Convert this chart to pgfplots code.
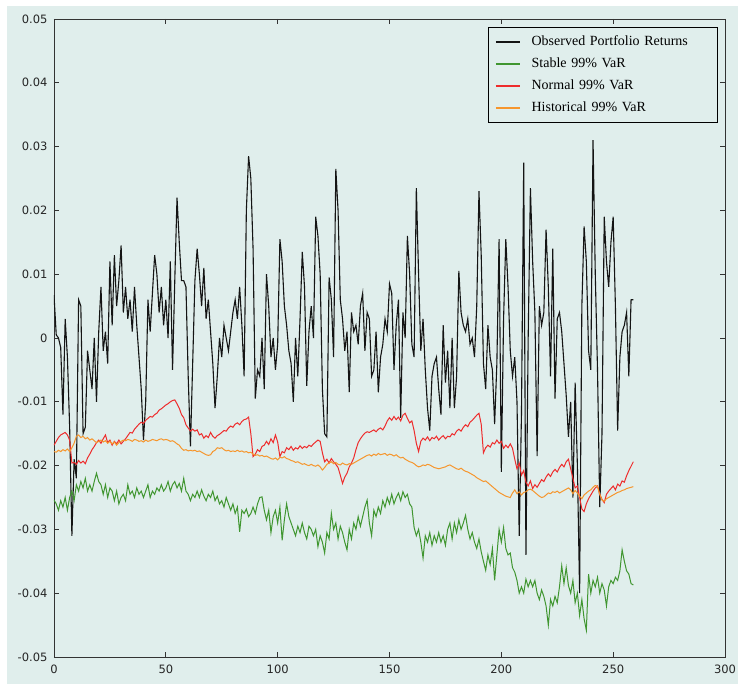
\documentclass[border=0pt]{standalone}
\usepackage{fontspec}
\setmainfont{Liberation Serif}
\newfontfamily\ticksf{DejaVu Sans}
\usepackage{pgfplots}
\usepackage{pgfplotstable}
\pgfplotsset{compat=1.18}

\definecolor{bgc}{RGB}{224,238,236}
\definecolor{obsc}{RGB}{20,20,20}
\definecolor{stabc}{RGB}{64,150,48}
\definecolor{normc}{RGB}{238,44,44}
\definecolor{histc}{RGB}{246,150,45}

% i = day, r = observed return, s = stable VaR, n = normal VaR, h = historical VaR
\pgfplotstableread{
i r s n h
0 0.0067 -0.0254 -0.0168 -0.0178
1 0.0005 -0.026 -0.0162 -0.0179
2 0 -0.027 -0.0156 -0.0176
3 -0.0015 -0.0255 -0.0152 -0.0178
4 -0.012 -0.0265 -0.015 -0.0175
5 0.003 -0.025 -0.0148 -0.0177
6 -0.003 -0.027 -0.0152 -0.0174
7 -0.014 -0.025 -0.016 -0.0178
8 -0.031 -0.024 -0.0196 -0.0172
9 -0.019 -0.0255 -0.0195 -0.0165
10 -0.022 -0.023 -0.0198 -0.0154
11 0.006 -0.024 -0.0192 -0.0152
12 0.005 -0.0225 -0.0196 -0.0156
13 -0.015 -0.0235 -0.0193 -0.0154
14 -0.014 -0.022 -0.0197 -0.0158
15 -0.002 -0.024 -0.0188 -0.0156
16 -0.005 -0.023 -0.0182 -0.016
17 -0.008 -0.024 -0.0175 -0.0158
18 0 -0.0225 -0.017 -0.0161
19 -0.01 -0.0212 -0.0164 -0.0164
20 0.001 -0.0225 -0.016 -0.0162
21 0.008 -0.023 -0.0165 -0.016
22 -0.002 -0.0245 -0.0158 -0.0163
23 0.001 -0.023 -0.0152 -0.0161
24 -0.004 -0.025 -0.0164 -0.0165
25 0.012 -0.0235 -0.016 -0.0162
26 0.002 -0.024 -0.0168 -0.0166
27 0.013 -0.0255 -0.0162 -0.0163
28 0.005 -0.024 -0.0166 -0.0168
29 0.009 -0.026 -0.016 -0.0164
30 0.0145 -0.025 -0.0166 -0.0162
31 0.004 -0.0245 -0.0162 -0.016
32 0.008 -0.0255 -0.0158 -0.0161
33 0.003 -0.023 -0.0153 -0.0159
34 0.006 -0.0245 -0.0148 -0.016
35 0.001 -0.024 -0.0149 -0.0162
36 0.008 -0.025 -0.0143 -0.0159
37 0.002 -0.0235 -0.0139 -0.016
38 -0.003 -0.0245 -0.0135 -0.0162
39 -0.008 -0.024 -0.0132 -0.0161
40 -0.016 -0.025 -0.0134 -0.0163
41 -0.01 -0.024 -0.0129 -0.016
42 0.006 -0.023 -0.0126 -0.0162
43 0.001 -0.025 -0.0123 -0.0161
44 0.007 -0.024 -0.0124 -0.0159
45 0.013 -0.0245 -0.012 -0.016
46 0.01 -0.0235 -0.0118 -0.0161
47 0.004 -0.024 -0.0113 -0.0159
48 0.008 -0.023 -0.0111 -0.0158
49 0.002 -0.024 -0.0108 -0.016
50 0.006 -0.0235 -0.0105 -0.0159
51 0 -0.0225 -0.0103 -0.016
52 0.012 -0.024 -0.01 -0.0162
53 -0.005 -0.023 -0.0098 -0.0161
54 0.009 -0.0225 -0.0097 -0.0163
55 0.022 -0.0235 -0.0103 -0.0166
56 0.015 -0.0228 -0.011 -0.0168
57 0.009 -0.024 -0.012 -0.0173
58 0.009 -0.022 -0.0125 -0.0176
59 0.008 -0.024 -0.0136 -0.0175
60 -0.006 -0.0245 -0.0141 -0.0177
61 -0.017 -0.0255 -0.0146 -0.0176
62 -0.004 -0.0245 -0.0143 -0.0177
63 0.009 -0.025 -0.0146 -0.0176
64 0.014 -0.024 -0.0144 -0.0178
65 0.01 -0.025 -0.0152 -0.0177
66 0.005 -0.0238 -0.015 -0.0179
67 0.011 -0.0248 -0.0157 -0.0181
68 0.003 -0.0255 -0.0153 -0.0183
69 0.006 -0.0245 -0.0156 -0.0184
70 0.001 -0.025 -0.0148 -0.0183
71 -0.004 -0.024 -0.0154 -0.0178
72 -0.011 -0.0255 -0.0157 -0.0176
73 -0.006 -0.0248 -0.0153 -0.0172
74 0 -0.026 -0.0151 -0.0173
75 -0.003 -0.0255 -0.0148 -0.0172
76 0.002 -0.0265 -0.0145 -0.0175
77 0 -0.025 -0.0146 -0.0177
78 -0.002 -0.026 -0.0141 -0.0176
79 0.001 -0.027 -0.0138 -0.0178
80 0.004 -0.026 -0.014 -0.0177
81 0.006 -0.0275 -0.0135 -0.0178
82 0.003 -0.0265 -0.0133 -0.0176
83 0.008 -0.0304 -0.0136 -0.0178
84 0.002 -0.027 -0.0131 -0.0177
85 -0.006 -0.0275 -0.0128 -0.0179
86 0.02 -0.0268 -0.0127 -0.0178
87 0.0285 -0.028 -0.0124 -0.018
88 0.025 -0.0275 -0.015 -0.0179
89 0.014 -0.0265 -0.0186 -0.0182
90 -0.0095 -0.0275 -0.0182 -0.0184
91 -0.005 -0.026 -0.0175 -0.0183
92 -0.006 -0.025 -0.0178 -0.0185
93 0 -0.0249 -0.017 -0.0184
94 -0.008 -0.027 -0.0168 -0.0186
95 0.01 -0.0285 -0.0162 -0.0185
96 0.005 -0.027 -0.0167 -0.0187
97 -0.003 -0.0305 -0.0158 -0.0189
98 0 -0.028 -0.0164 -0.019
99 -0.005 -0.027 -0.0152 -0.0188
100 -0.001 -0.029 -0.0163 -0.0191
101 0.0155 -0.0265 -0.0186 -0.0187
102 0.012 -0.0317 -0.0178 -0.0188
103 0.005 -0.0285 -0.018 -0.0186
104 0.002 -0.026 -0.0172 -0.0189
105 -0.002 -0.028 -0.0175 -0.019
106 -0.004 -0.029 -0.017 -0.0192
107 -0.01 -0.03 -0.0176 -0.0193
108 0 -0.031 -0.0172 -0.0195
109 -0.006 -0.0295 -0.0174 -0.0194
110 0.003 -0.0305 -0.0169 -0.0196
111 0.0135 -0.029 -0.0173 -0.0198
112 0.008 -0.0305 -0.017 -0.0197
113 -0.0075 -0.0315 -0.0172 -0.0199
114 0.001 -0.0295 -0.0168 -0.02
115 0.005 -0.03 -0.017 -0.0198
116 0 -0.031 -0.0166 -0.02
117 0.019 -0.03 -0.0163 -0.0201
118 0.016 -0.0327 -0.016 -0.0199
119 0.01 -0.031 -0.0162 -0.0202
120 -0.008 -0.032 -0.018 -0.0207
121 -0.015 -0.0337 -0.0194 -0.0203
122 -0.0155 -0.0305 -0.019 -0.0198
123 0.0095 -0.0315 -0.0196 -0.0196
124 0.006 -0.0275 -0.0189 -0.0194
125 -0.003 -0.03 -0.0194 -0.0197
126 0.0265 -0.029 -0.0198 -0.0195
127 0.02 -0.0315 -0.0203 -0.0198
128 0.006 -0.0295 -0.0215 -0.0199
129 0.003 -0.0305 -0.0228 -0.0196
130 -0.002 -0.032 -0.0218 -0.0198
131 0.001 -0.0332 -0.0212 -0.0199
132 -0.0085 -0.03 -0.0202 -0.0197
133 0.004 -0.0315 -0.0196 -0.0198
134 0.001 -0.029 -0.0188 -0.0196
135 0.002 -0.03 -0.0175 -0.0194
136 -0.001 -0.028 -0.0164 -0.0192
137 0.005 -0.0295 -0.0158 -0.019
138 0.007 -0.028 -0.0153 -0.0188
139 -0.002 -0.0265 -0.0149 -0.0186
140 0.004 -0.0254 -0.0147 -0.0184
141 0.003 -0.029 -0.0148 -0.0183
142 -0.006 -0.031 -0.0146 -0.0185
143 -0.005 -0.027 -0.0144 -0.0182
144 0.001 -0.028 -0.0147 -0.0184
145 -0.0085 -0.0265 -0.0143 -0.0181
146 -0.003 -0.0275 -0.0141 -0.0183
147 -0.001 -0.0255 -0.0144 -0.0182
148 0.003 -0.0265 -0.0138 -0.0181
149 0.001 -0.025 -0.013 -0.0184
150 0.0085 -0.026 -0.0125 -0.0182
151 0.007 -0.0245 -0.0129 -0.0183
152 -0.005 -0.026 -0.0123 -0.0185
153 0.002 -0.025 -0.0128 -0.0183
154 0.006 -0.0243 -0.0124 -0.0186
155 -0.0125 -0.0255 -0.013 -0.0188
156 0.004 -0.0241 -0.0121 -0.0187
157 0 -0.025 -0.0118 -0.019
158 0.016 -0.0245 -0.0126 -0.0192
159 0.01 -0.026 -0.0133 -0.0194
160 -0.001 -0.0265 -0.013 -0.0195
161 -0.003 -0.0297 -0.0145 -0.0197
162 0.0235 -0.031 -0.0165 -0.02
163 0.01 -0.03 -0.0178 -0.0202
164 -0.002 -0.032 -0.0162 -0.0201
165 0.003 -0.0345 -0.0157 -0.0199
166 -0.005 -0.031 -0.016 -0.02
167 -0.011 -0.032 -0.0155 -0.0198
168 -0.0145 -0.0305 -0.0161 -0.0199
169 -0.006 -0.0325 -0.0156 -0.0201
170 -0.004 -0.031 -0.0158 -0.0203
171 -0.003 -0.032 -0.0154 -0.0204
172 -0.008 -0.0305 -0.016 -0.0205
173 -0.012 -0.032 -0.0156 -0.0204
174 0.002 -0.031 -0.0153 -0.0203
175 -0.007 -0.0325 -0.0158 -0.0202
176 -0.002 -0.03 -0.0154 -0.02
177 -0.011 -0.029 -0.0155 -0.0199
178 0 -0.0315 -0.015 -0.0201
179 -0.011 -0.029 -0.0152 -0.0203
180 -0.006 -0.0305 -0.0146 -0.0205
181 0.0105 -0.0285 -0.0143 -0.0206
182 0.004 -0.03 -0.0146 -0.0204
183 0.002 -0.029 -0.014 -0.0207
184 0.001 -0.0278 -0.0136 -0.0209
185 0.003 -0.03 -0.0139 -0.021
186 -0.001 -0.0315 -0.0132 -0.0212
187 0 -0.0305 -0.0129 -0.0214
188 -0.003 -0.032 -0.0125 -0.0216
189 0.005 -0.033 -0.0121 -0.0219
190 0.023 -0.0315 -0.0118 -0.0221
191 0.013 -0.0335 -0.0135 -0.0223
192 -0.004 -0.035 -0.018 -0.0225
193 -0.008 -0.0364 -0.0172 -0.0224
194 0.002 -0.034 -0.0168 -0.0227
195 -0.003 -0.0355 -0.0171 -0.023
196 -0.005 -0.033 -0.0164 -0.0233
197 -0.0135 -0.038 -0.0166 -0.0236
198 -0.004 -0.034 -0.016 -0.0239
199 0.0155 -0.03 -0.0165 -0.0242
200 -0.021 -0.032 -0.0162 -0.0244
201 0.003 -0.0297 -0.0173 -0.0246
202 0.0155 -0.033 -0.0168 -0.0248
203 0.008 -0.034 -0.0172 -0.0249
204 -0.002 -0.0337 -0.0166 -0.025
205 -0.006 -0.036 -0.0173 -0.0243
206 -0.003 -0.0367 -0.019 -0.0238
207 -0.01 -0.038 -0.0205 -0.0244
208 -0.031 -0.04 -0.0196 -0.0241
209 -0.012 -0.039 -0.0215 -0.0246
210 0.0275 -0.04 -0.0208 -0.0242
211 -0.034 -0.0378 -0.0226 -0.0241
212 0 -0.039 -0.0232 -0.0238
213 0.0235 -0.038 -0.0224 -0.0237
214 0.012 -0.039 -0.0236 -0.0239
215 0.004 -0.038 -0.023 -0.0242
216 -0.0185 -0.04 -0.0234 -0.0245
217 0.005 -0.041 -0.0228 -0.0248
218 0.002 -0.0395 -0.0222 -0.025
219 0.004 -0.0405 -0.0225 -0.0249
220 0.017 -0.042 -0.0218 -0.0246
221 0.008 -0.045 -0.0213 -0.0243
222 -0.006 -0.041 -0.0217 -0.0244
223 0.014 -0.042 -0.021 -0.0241
224 -0.0095 -0.0405 -0.0206 -0.0242
225 0.003 -0.0415 -0.021 -0.024
226 0.004 -0.039 -0.0203 -0.0243
227 0.001 -0.0357 -0.0198 -0.0241
228 -0.004 -0.0385 -0.0202 -0.0239
229 -0.009 -0.036 -0.0194 -0.0237
230 -0.0155 -0.0388 -0.019 -0.0235
231 -0.01 -0.04 -0.0205 -0.0238
232 -0.025 -0.038 -0.022 -0.0244
233 -0.007 -0.0415 -0.0235 -0.0239
234 -0.02 -0.04 -0.0232 -0.0243
235 -0.04 -0.0435 -0.025 -0.0248
236 0.005 -0.041 -0.0268 -0.0252
237 0.0175 -0.044 -0.0272 -0.0246
238 0.012 -0.0458 -0.026 -0.0243
239 -0.002 -0.037 -0.0252 -0.024
240 -0.005 -0.04 -0.0246 -0.0238
241 0.031 -0.038 -0.024 -0.0234
242 0.01 -0.039 -0.0235 -0.0231
243 -0.005 -0.0375 -0.0232 -0.0233
244 -0.0265 -0.04 -0.0245 -0.0245
245 -0.015 -0.0385 -0.0253 -0.0254
246 0.019 -0.0395 -0.0258 -0.0256
247 0.012 -0.042 -0.0245 -0.0252
248 0.008 -0.039 -0.024 -0.025
249 0.015 -0.038 -0.0236 -0.0248
250 0.019 -0.0385 -0.0232 -0.0246
251 0.005 -0.0375 -0.0238 -0.0244
252 -0.0145 -0.038 -0.0229 -0.0242
253 -0.003 -0.0365 -0.0232 -0.0241
254 0.001 -0.0332 -0.0224 -0.0239
255 0.002 -0.035 -0.0226 -0.0238
256 0.004 -0.0365 -0.0216 -0.0236
257 -0.006 -0.037 -0.0208 -0.0235
258 0.006 -0.0385 -0.0201 -0.0234
259 0.006 -0.0387 -0.0194 -0.0233
}\vardata

\begin{document}
\begin{tikzpicture}[x=1pt,y=1pt]
\useasboundingbox (0,0) rectangle (738,684);
\fill[bgc] (7,0) rectangle (738,678);
\begin{axis}[
  at={(54pt,27pt)}, anchor=south west,
  scale only axis, width=671pt, height=638pt,
  xmin=0, xmax=300, ymin=-0.05, ymax=0.05,
  xtick={0,50,100,150,200,250,300},
  ytick={-0.05,-0.04,-0.03,-0.02,-0.01,0,0.01,0.02,0.03,0.04,0.05},
  yticklabels={-0.05,-0.04,-0.03,-0.02,-0.01,0,0.01,0.02,0.03,0.04,0.05},
  scaled ticks=false,
  /pgf/number format/assume math mode=true,
  tick label style={font=\ticksf\fontsize{11.5}{13}\selectfont, black!85},
  yticklabel style={xshift=-3pt},
  xticklabel style={yshift=-4pt},
  tick align=inside,
  major tick length=5pt,
  every tick/.style={black!80, line width=0.8pt},
  axis line style={black!80, line width=0.9pt},
  legend cell align=left,
  legend image code/.code={\draw[#1, line width=1.6pt] (0pt,0pt) -- (24pt,0pt);},
  legend style={at={(0.9896,0.9875)}, anchor=north east,
    fill=bgc, line width=0.8pt,
    inner xsep=7pt, inner ysep=8pt,
    font=\fontsize{14}{15}\selectfont,
    row sep=9pt, column sep=11pt,
    nodes={inner sep=0pt, text height=10pt, text depth=3pt, text width=179pt, align=left}},
]
\addplot[draw=obsc, line width=1.1pt] table[x=i, y=r] {\vardata};
\addplot[draw=stabc, line width=1pt] table[x=i, y=s] {\vardata};
\addplot[draw=normc, line width=1pt] table[x=i, y=n] {\vardata};
\addplot[draw=histc, line width=1pt] table[x=i, y=h] {\vardata};
\legend{Observed Portfolio Returns, Stable 99\% VaR, Normal 99\% VaR, Historical 99\% VaR}
\end{axis}
\end{tikzpicture}
\end{document}
